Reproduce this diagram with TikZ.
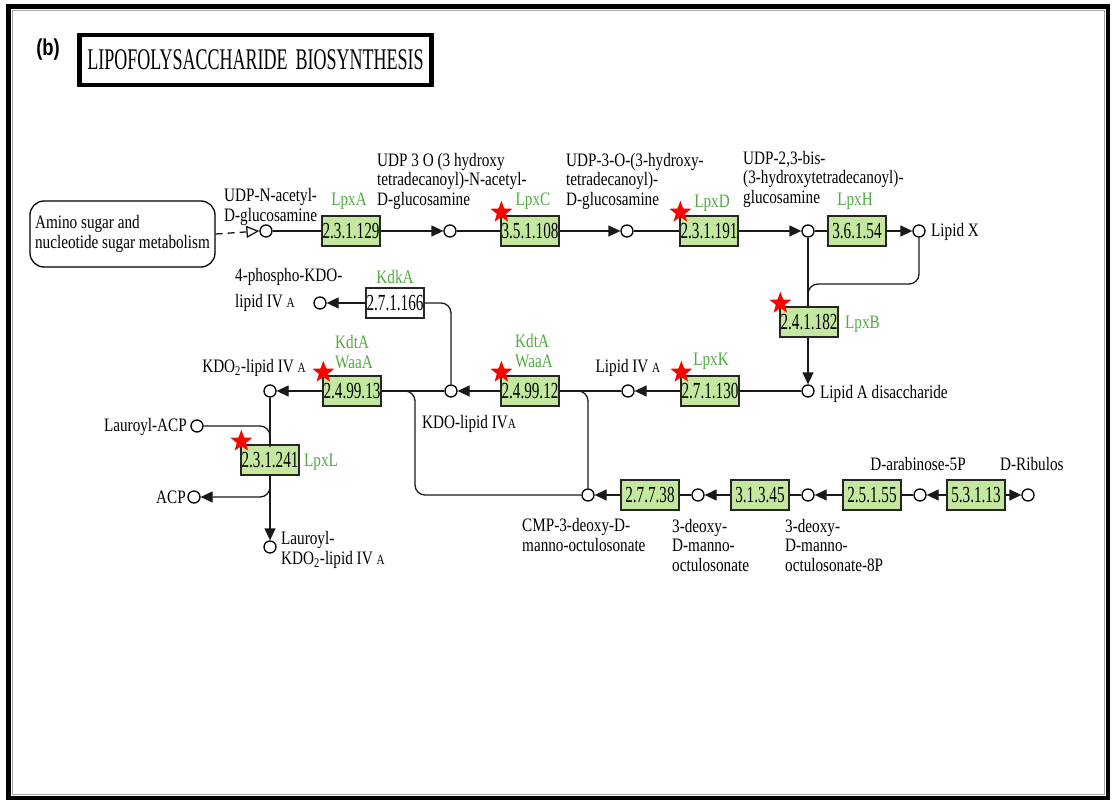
\documentclass[tikz,border=0pt]{standalone}
\usepackage{fontspec}
\setmainfont{Liberation Serif}
\newfontfamily\lblfam[FakeStretch=0.8]{Liberation Serif}
\newfontfamily\ecfam[FakeStretch=0.66]{Liberation Serif}
\newfontfamily\titlefam[FakeStretch=0.6]{Liberation Serif}
\newfontfamily\panelfam{Liberation Sans}
\usetikzlibrary{arrows.meta,shapes.geometric}
\definecolor{boxgreen}{RGB}{196,232,160}
\definecolor{genegreen}{RGB}{80,170,65}
\newcommand\lblfont{\lblfam\fontsize{19}{19.5}\selectfont}
\newcommand\ecfont{\ecfam\fontsize{23}{23}\selectfont}
\newcommand\smA{{\fontsize{14}{14}\selectfont A}}
\begin{document}
\begin{tikzpicture}[x=1pt,y=-1pt,
 ec/.style={rectangle, draw=black!85, fill=boxgreen, line width=1.3pt, minimum width=58pt, minimum height=30pt, inner sep=0pt, font=\ecfont},
 ecw/.style={ec, fill=white},
 cpd/.style={circle, draw=black, fill=white, line width=1.3pt, minimum size=12pt, inner sep=0pt},
 lbl/.style={font=\lblfont, align=left, inner sep=0pt},
 gene/.style={font=\lblfont, text=genegreen, inner sep=0pt, align=left},
 ln/.style={line width=1.3pt, draw=black!90},
 arr/.style={ln, -{Triangle[length=12pt,width=11pt]}},
 hit/.style={star, star points=5, star point ratio=2.4, fill=red, draw=none, minimum size=23pt, inner sep=0pt},
 kinked/.style={ln, rounded corners=10pt}
]
\useasboundingbox (0,0) rectangle (1112,803);
% frame
\draw[line width=4.5pt] (8.5,6.5) rectangle (1108,798);
\draw[black!35, line width=1pt] (12.5,10) rectangle (1104.5,794.5);
% panel letter and title
\node[font=\panelfam\bfseries\fontsize{23}{23}\selectfont, inner sep=0pt] (panel) at (48,50) {\scalebox{0.8}[1]{(b)}};
\node[draw, line width=4.5pt, minimum width=352pt, minimum height=50pt, inner sep=0pt,
      font=\titlefam\fontsize{30}{30}\selectfont] (title) at (255.5,60) {LIPOFOLYSACCHARIDE\hspace{8pt}BIOSYNTHESIS};

% ---------- row 1 ----------
\node[draw, line width=1.3pt, rounded corners=14pt, minimum width=185pt, minimum height=66pt,
      font=\lblfont, align=left] (amino) at (122.5,234) {Amino sugar and\\nucleotide sugar metabolism};
\node[cpd] (c0) at (266,231) {};
\node[ec] (ecA) at (351,231) {2.3.1.129};
\node[cpd] (c1) at (450,231) {};
\node[ec] (ecC) at (530,231) {3.5.1.108};
\node[cpd] (c2) at (627,231) {};
\node[ec] (ecD) at (709,231) {2.3.1.191};
\node[cpd] (c3) at (808,231) {};
\node[ec] (ecH) at (857,231) {3.6.1.54};
\node[cpd] (c4) at (919,231) {};

\node[lbl, anchor=west] (t0) at (224,207) {UDP-N-acetyl-\\D-glucosamine};
\node[lbl, anchor=west] (t1) at (377,181) {UDP 3 O (3 hydroxy\\tetradecanoyl)-N-acetyl-\\D-glucosamine};
\node[lbl, anchor=west] (t2) at (566,181) {UDP-3-O-(3-hydroxy-\\tetradecanoyl)-\\D-glucosamine};
\node[lbl, anchor=west] (t3) at (743,179) {UDP-2,3-bis-\\(3-hydroxytetradecanoyl)-\\glucosamine};
\node[lbl, anchor=west] (t4) at (931,232) {Lipid X};
\node[gene] (gA) at (349,201) {LpxA};
\node[gene] (gC) at (533,201) {LpxC};
\node[gene] (gD) at (712,203) {LpxD};
\node[gene] (gH) at (855,201) {LpxH};

\draw[ln, dash pattern=on 7pt off 5pt, -{Triangle[open, length=13pt, width=12pt, fill=white]}] (amino.east) -- (c0.west);
\draw[ln] (c0.east) -- (ecA.west);
\draw[arr] (ecA.east) -- (c1.west);
\draw[ln] (c1.east) -- (ecC.west);
\draw[arr] (ecC.east) -- (c2.west);
\draw[ln] (c2.east) -- (ecD.west);
\draw[arr] (ecD.east) -- (c3.west);
\draw[ln] (c3.east) -- (ecH.west);
\draw[arr] (ecH.east) -- (c4.west);

% ---------- LpxB ----------
\node[ec] (ecB) at (809,322) {2.4.1.182};
\node[gene, anchor=west] (gB) at (845,324) {LpxB};
\node[cpd] (c5) at (808,391) {};
\node[lbl, anchor=west] (t5) at (820,394) {Lipid A disaccharide};
\coordinate (bx1) at (919,284);
\coordinate (bx2) at (808,284);
\coordinate (bx3) at (808,302);
\draw[ln] (c3.south) -- (c3 |- ecB.north);
\draw[kinked] (c4.south) -- (bx1) -- (bx2) -- (bx3);
\draw[arr] (c3 |- ecB.south) -- (c5.north);

% ---------- row 2 ----------
\node[ec] (ecK) at (710,391) {2.7.1.130};
\node[cpd] (c6) at (628,391) {};
\node[ec] (ec12) at (530,391) {2.4.99.12};
\node[cpd] (c7) at (451,391) {};
\node[ec] (ec13) at (352,391) {2.4.99.13};
\node[cpd] (c8) at (270,391) {};
\node[ecw] (ecKdk) at (395,303) {2.7.1.166};
\node[cpd] (c9) at (320,303) {};

\node[gene] (gK) at (711,361) {LpxK};
\node[gene, anchor=west] (g12) at (515,351) {KdtA\\WaaA};
\node[gene, anchor=west] (g13) at (335,352) {KdtA\\WaaA};
\node[gene] (gKdk) at (395,277) {KdkA};
\node[lbl] (t6) at (628,368) {Lipid IV \smA};
\node[lbl, anchor=west] (t7) at (422,424) {KDO-lipid IV\smA};
\node[lbl] (t8) at (254,368) {KDO\textsubscript{2}-lipid IV \smA};
\node[lbl, anchor=west] (t9) at (235,290) {4-phospho-KDO-\\[6pt]lipid IV \smA};

\draw[ln] (c5.west) -- (ecK.east);
\draw[arr] (ecK.west) -- (c6.east);
\draw[ln] (c6.west) -- (ec12.east);
\draw[arr] (ec12.west) -- (c7.east);
\draw[ln] (c7.west) -- (ec13.east);
\draw[arr] (ec13.west) -- (c8.east);
\draw[arr] (ecKdk.west) -- (c9.east);
\coordinate (kd1) at (451,303);
\draw[kinked] (c7.north) -- (kd1) -- (ecKdk.east);

% ---------- LpxL ----------
\node[ec] (ecL) at (270,460) {2.3.1.241};
\node[gene, anchor=west] (gL) at (304,462) {LpxL};
\node[cpd] (c10) at (197,426) {};
\node[cpd] (c11) at (194,497) {};
\node[cpd] (c12) at (270,547) {};
\node[lbl, anchor=east] (t10) at (187,427) {Lauroyl-ACP};
\node[lbl, anchor=east] (t11) at (186,497) {ACP};
\node[lbl, anchor=west] (t12) at (281,550) {Lauroyl-\\KDO\textsubscript{2}-lipid IV \smA};
\coordinate (l1) at (270,426);
\coordinate (l2) at (270,447);
\coordinate (l3) at (270,474);
\coordinate (l4) at (270,497);
\draw[ln] (c8.south) -- (ecL.north);
\draw[kinked] (c10.east) -- (l1) -- (l2);
\draw[arr, rounded corners=10pt] (l3) -- (l4) -- (c11.east);
\draw[arr] (ecL.south) -- (c12.north);

% ---------- row 3 ----------
\node[cpd] (c13) at (588,495) {};
\node[ec] (ec38) at (650,495) {2.7.7.38};
\node[cpd] (c14) at (698,495) {};
\node[ec] (ec45) at (760,495) {3.1.3.45};
\node[cpd] (c15) at (808,495) {};
\node[ec] (ec55) at (872,495) {2.5.1.55};
\node[cpd] (c16) at (920,495) {};
\node[ec] (ec5313) at (976,495) {5.3.1.13};
\node[cpd] (c17) at (1028,495) {};

\node[lbl] (t13) at (918,464) {D-arabinose-5P};
\node[lbl, anchor=west] (t14) at (1000,464) {D-Ribulos};
\node[lbl, anchor=west] (t15) at (522,535) {CMP-3-deoxy-D-\\manno-octulosonate};
\node[lbl, anchor=west] (t16) at (672,545) {3-deoxy-\\D-manno-\\octulosonate};
\node[lbl, anchor=west] (t17) at (785,545) {3-deoxy-\\D-manno-\\octulosonate-8P};

\draw[arr] (ec38.west) -- (c13.east);
\draw[ln] (c14.west) -- (ec38.east);
\draw[arr] (ec45.west) -- (c14.east);
\draw[ln] (c15.west) -- (ec45.east);
\draw[arr] (ec55.west) -- (c15.east);
\draw[ln] (c16.west) -- (ec55.east);
\draw[arr] (ec5313.west) -- (c16.east);
\draw[arr] (ec5313.east) -- (c17.west);

\coordinate (r1) at (574,391);
\coordinate (r2) at (588,391);
\coordinate (q1) at (402,391);
\coordinate (q2) at (415,391);
\coordinate (q3) at (415,495);
\draw[kinked] (r1) -- (r2) -- (c13.north);
\draw[kinked] (q1) -- (q2) -- (q3) -- (c13.west);

% ---------- stars ----------
\node[hit] (sC) at ([shift={(1,-3)}]ecC.north west) {};
\node[hit] (sD) at ([shift={(1,-3)}]ecD.north west) {};
\node[hit] (sB) at ([shift={(1,-3)}]ecB.north west) {};
\node[hit] (sK) at ([shift={(1,-3)}]ecK.north west) {};
\node[hit] (s12) at ([shift={(1,-3)}]ec12.north west) {};
\node[hit] (s13) at ([shift={(1,-3)}]ec13.north west) {};
\node[hit] (sL) at ([shift={(1,-3)}]ecL.north west) {};
\end{tikzpicture}
\end{document}
